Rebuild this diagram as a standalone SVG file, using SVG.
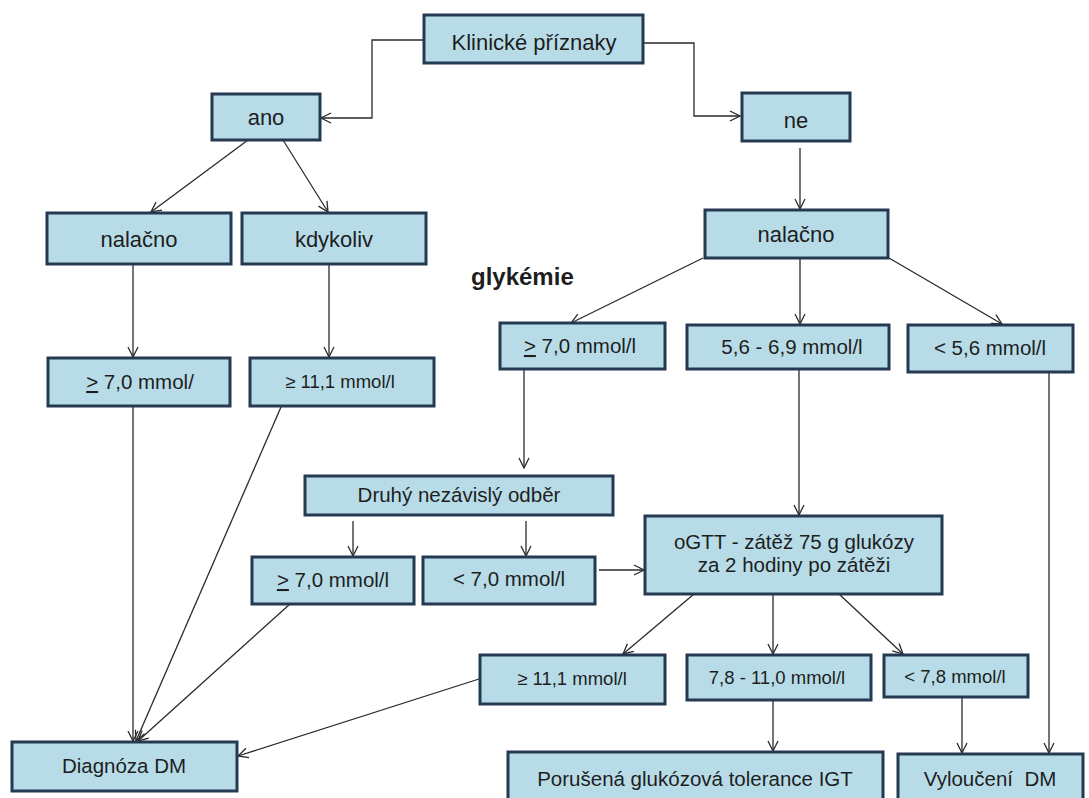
<svg xmlns="http://www.w3.org/2000/svg" width="1089" height="798" viewBox="0 0 1089 798">
<style>
.box{fill:#b7dce8;stroke:#243a52;stroke-width:3}
.t{font-family:"Liberation Sans",Arial,sans-serif;font-size:20.5px;fill:#1e1e1e;text-anchor:middle}
.b{font-size:22px}
.s{font-size:18.5px}
.c{fill:none;stroke:#2a2a2a;stroke-width:1.3}
</style>
<defs>
<marker id="a" viewBox="0 0 12 12" refX="11" refY="6" markerWidth="12" markerHeight="12" markerUnits="userSpaceOnUse" orient="auto">
<path d="M1,1 L11,6 L1,11" fill="none" stroke="#2a2a2a" stroke-width="1.3"/>
</marker>
</defs>
<rect width="1089" height="798" fill="#ffffff"/>
<g id="connectors">
<polyline class="c" points="424,40 372,40 372,118 321,118" marker-end="url(#a)"/>
<polyline class="c" points="644,43 694,43 694,116 740,116" marker-end="url(#a)"/>
<line class="c" x1="248" y1="140" x2="151" y2="212" marker-end="url(#a)"/>
<line class="c" x1="283" y1="140" x2="328" y2="212" marker-end="url(#a)"/>
<line class="c" x1="133" y1="264" x2="133" y2="357" marker-end="url(#a)"/>
<line class="c" x1="329" y1="264" x2="329" y2="357" marker-end="url(#a)"/>
<line class="c" x1="800" y1="148" x2="800" y2="209" marker-end="url(#a)"/>
<line class="c" x1="703" y1="258" x2="571" y2="323" marker-end="url(#a)"/>
<line class="c" x1="800" y1="258" x2="800" y2="324" marker-end="url(#a)"/>
<line class="c" x1="889" y1="258" x2="1002" y2="324" marker-end="url(#a)"/>
<line class="c" x1="524" y1="369" x2="524" y2="468" marker-end="url(#a)"/>
<line class="c" x1="799" y1="369" x2="799" y2="515" marker-end="url(#a)"/>
<line class="c" x1="1049" y1="372" x2="1049" y2="753" marker-end="url(#a)"/>
<line class="c" x1="353" y1="521" x2="353" y2="556" marker-end="url(#a)"/>
<line class="c" x1="526" y1="521" x2="526" y2="556" marker-end="url(#a)"/>
<line class="c" x1="599" y1="570" x2="644" y2="570" marker-end="url(#a)"/>
<line class="c" x1="133" y1="406" x2="133" y2="741" marker-end="url(#a)"/>
<line class="c" x1="281" y1="407" x2="136" y2="741" marker-end="url(#a)"/>
<line class="c" x1="290" y1="604" x2="138" y2="741" marker-end="url(#a)"/>
<line class="c" x1="479" y1="679" x2="238" y2="756" marker-end="url(#a)"/>
<line class="c" x1="694" y1="594" x2="623" y2="654" marker-end="url(#a)"/>
<line class="c" x1="773" y1="594" x2="773" y2="654" marker-end="url(#a)"/>
<line class="c" x1="839" y1="594" x2="903" y2="654" marker-end="url(#a)"/>
<line class="c" x1="773" y1="700" x2="773" y2="751" marker-end="url(#a)"/>
<line class="c" x1="962" y1="697" x2="962" y2="753" marker-end="url(#a)"/>
</g>
<g id="klinicke"><rect class="box" x="424" y="15" width="219" height="48"/><text class="t b" x="534" y="50">Klinické příznaky</text></g>
<g id="ano"><rect class="box" x="212" y="94" width="108" height="46"/><text class="t b" x="266" y="125">ano</text></g>
<g id="ne"><rect class="box" x="742" y="93" width="108" height="48"/><text class="t b" x="796" y="128">ne</text></g>
<g id="nalacno1"><rect class="box" x="47" y="213" width="184" height="51"/><text class="t b" x="139" y="247">nalačno</text></g>
<g id="kdykoliv"><rect class="box" x="242" y="213" width="184" height="51"/><text class="t b" x="334" y="247">kdykoliv</text></g>
<g id="ge70a"><rect class="box" x="48" y="358" width="182" height="48"/><text class="t" x="140" y="389"><tspan text-decoration="underline">&gt;</tspan> 7,0 mmol/</text></g>
<g id="ge111a"><rect class="box" x="250" y="358" width="184" height="48"/><text class="t s" x="340" y="388">≥ 11,1 mmol/l</text></g>
<g id="glykemie"><text class="t" x="471" y="285" style="text-anchor:start;font-weight:bold;font-size:24px">glykémie</text></g>
<g id="nalacno2"><rect class="box" x="705" y="210" width="183" height="48"/><text class="t b" x="796" y="242">nalačno</text></g>
<g id="ge70b"><rect class="box" x="500" y="323" width="165" height="46"/><text class="t" x="580" y="353"><tspan text-decoration="underline">&gt;</tspan> 7,0 mmol/l</text></g>
<g id="r5669"><rect class="box" x="687" y="325" width="202" height="44"/><text class="t" x="792" y="354">5,6 - 6,9 mmol/l</text></g>
<g id="lt56"><rect class="box" x="908" y="325" width="165" height="47"/><text class="t" x="990" y="355">&lt; 5,6 mmol/l</text></g>
<g id="druhy"><rect class="box" x="305" y="476" width="308" height="39"/><text class="t" x="459" y="502">Druhý nezávislý odběr</text></g>
<g id="ge70c"><rect class="box" x="252" y="557" width="162" height="47"/><text class="t" x="333" y="587"><tspan text-decoration="underline">&gt;</tspan> 7,0 mmol/l</text></g>
<g id="lt70"><rect class="box" x="423" y="557" width="172" height="47"/><text class="t" x="509" y="586">&lt; 7,0 mmol/l</text></g>
<g id="ogtt"><rect class="box" x="645" y="516" width="297" height="78"/><text class="t" x="794" y="549">oGTT - zátěž 75 g glukózy</text><text class="t" x="794" y="572">za 2 hodiny po zátěži</text></g>
<g id="ge111b"><rect class="box" x="480" y="655" width="185" height="49"/><text class="t s" x="572" y="685">≥ 11,1 mmol/l</text></g>
<g id="r78110"><rect class="box" x="687" y="655" width="184" height="45"/><text class="t s" x="777" y="684">7,8 - 11,0 mmol/l</text></g>
<g id="lt78"><rect class="box" x="884" y="655" width="144" height="42"/><text class="t s" x="955" y="683">&lt; 7,8 mmol/l</text></g>
<g id="diagnoza"><rect class="box" x="12" y="742" width="225" height="49"/><text class="t" x="124" y="773">Diagnóza DM</text></g>
<g id="porusena"><rect class="box" x="508" y="752" width="375" height="60"/><text class="t" x="695" y="786">Porušená glukózová tolerance IGT</text></g>
<g id="vylouceni"><rect class="box" x="898" y="754" width="185" height="60"/><text class="t" x="990" y="786" xml:space="preserve">Vyloučení  DM</text></g>
</svg>
